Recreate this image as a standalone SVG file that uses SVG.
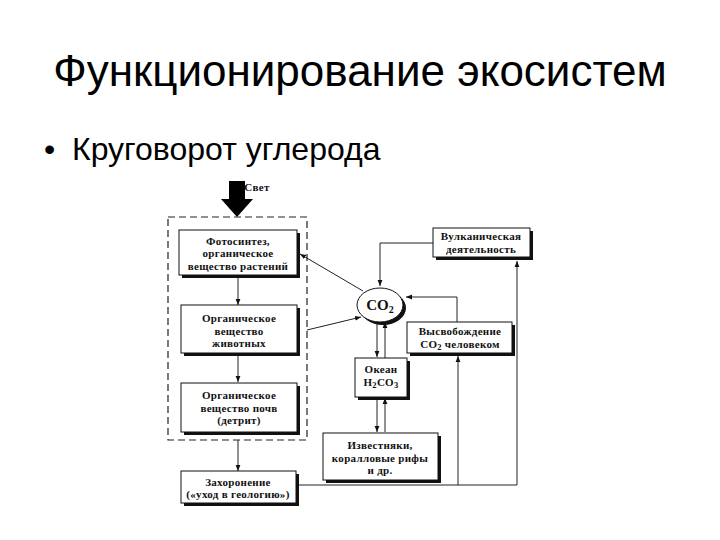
<svg xmlns="http://www.w3.org/2000/svg" width="720" height="540" viewBox="0 0 720 540">
<defs>
<marker id="ah" viewBox="0 0 10 10" refX="10" refY="5" markerWidth="6" markerHeight="6" orient="auto" markerUnits="userSpaceOnUse">
<path d="M0,1 L10,5 L0,9 Z" fill="#111"/>
</marker>
</defs>
<style>
.title{font-family:"Liberation Sans",Arial,sans-serif;fill:#000}
.t{font-family:"Liberation Serif","Times New Roman",serif;font-size:11px;letter-spacing:0.3px;font-weight:bold;fill:#111;text-anchor:middle}
.box{fill:#fff;stroke:#111;stroke-width:1}
.sh{fill:#111}
.ln{fill:none;stroke:#222;stroke-width:1}
.arr{fill:none;stroke:#222;stroke-width:1;marker-end:url(#ah)}
.dash{fill:none;stroke:#222;stroke-width:1.2;stroke-dasharray:7,4}
</style>
<rect width="720" height="540" fill="#fff"/>
<text class="title" x="360" y="86" font-size="44" text-anchor="middle">Функционирование экосистем</text>
<text class="title" x="44" y="160" font-size="32">•</text>
<text class="title" x="72" y="160" font-size="32">Круговорот углерода</text>

<g id="light">
<rect x="229" y="181" width="16" height="19" fill="#000"/>
<polygon points="221,199 253,199 237,217" fill="#000"/>
<text class="t" x="257" y="191" text-anchor="start" font-size="13">Свет</text>
</g>

<rect id="group" class="dash" x="168" y="217" width="139" height="223"/>

<g id="connectors">
<line class="arr" x1="238" y1="275" x2="238" y2="305"/>
<line class="arr" x1="238" y1="353" x2="238" y2="382"/>
<line class="arr" x1="238" y1="440" x2="238" y2="471"/>
<line class="arr" x1="363" y1="291" x2="300" y2="254"/>
<line class="arr" x1="307" y1="330" x2="361" y2="317"/>
<polyline class="arr" points="433,243 380,243 380,286"/>
<polyline class="arr" points="457,322 457,297 406,297"/>
<line class="arr" x1="377" y1="321" x2="377" y2="357"/>
<line class="arr" x1="385" y1="358" x2="385" y2="322"/>
<line class="arr" x1="377" y1="397" x2="377" y2="432"/>
<line class="arr" x1="385" y1="432" x2="385" y2="398"/>
<polyline class="ln" points="296,485 517,485"/>
<line class="arr" x1="458" y1="485" x2="458" y2="356"/>
<line class="arr" x1="517" y1="485" x2="517" y2="261"/>
</g>

<g id="photosynthesis">
<rect class="sh" x="182" y="233" width="118" height="45"/>
<rect class="box" x="179" y="230" width="118" height="45"/>
<text class="t" x="238" y="244.5">Фотосинтез,</text>
<text class="t" x="238" y="257">органическое</text>
<text class="t" x="238" y="269.5">вещество растений</text>
</g>

<g id="animals">
<rect class="sh" x="184" y="308" width="116" height="48"/>
<rect class="box" x="181" y="305" width="116" height="48"/>
<text class="t" x="239" y="322">Органическое</text>
<text class="t" x="239" y="334.5">вещество</text>
<text class="t" x="239" y="347">животных</text>
</g>

<g id="soil">
<rect class="sh" x="184" y="386" width="116" height="49"/>
<rect class="box" x="181" y="383" width="116" height="49"/>
<text class="t" x="239" y="399">Органическое</text>
<text class="t" x="239" y="411.5">вещество почв</text>
<text class="t" x="239" y="424">(детрит)</text>
</g>

<g id="burial">
<rect class="sh" x="184" y="474" width="115" height="32"/>
<rect class="box" x="181" y="471" width="115" height="32"/>
<text class="t" x="238" y="485.5">Захоронение</text>
<text class="t" x="238" y="498">(«уход в геологию»)</text>
</g>

<g id="co2">
<ellipse cx="383" cy="308" rx="23" ry="17" fill="#111"/>
<ellipse cx="380" cy="305" rx="23" ry="17" fill="#fff" stroke="#111" stroke-width="1"/>
<text x="380" y="310" text-anchor="middle" font-family="Liberation Serif,serif" font-weight="bold" font-size="15" fill="#111">CO<tspan font-size="10" dy="3">2</tspan></text>
</g>

<g id="volcano">
<rect class="sh" x="436" y="231" width="97" height="29"/>
<rect class="box" x="433" y="228" width="97" height="29"/>
<text class="t" x="481" y="240">Вулканическая</text>
<text class="t" x="481" y="252.5">деятельность</text>
</g>

<g id="human">
<rect class="sh" x="410" y="325" width="105" height="31"/>
<rect class="box" x="407" y="322" width="105" height="31"/>
<text class="t" x="460" y="335">Высвобождение</text>
<text class="t" x="460" y="347.5">CO<tspan font-size="8.5" dy="2">2</tspan><tspan dy="-2"> человеком</tspan></text>
</g>

<g id="ocean">
<rect class="sh" x="358" y="361" width="52" height="39"/>
<rect class="box" x="355" y="358" width="52" height="39"/>
<text class="t" x="381" y="373">Океан</text>
<text class="t" x="381" y="386">H<tspan font-size="8.5" dy="2">2</tspan><tspan dy="-2">CO</tspan><tspan font-size="8.5" dy="2">3</tspan></text>
</g>

<g id="limestone">
<rect class="sh" x="326" y="436" width="115" height="47"/>
<rect class="box" x="323" y="433" width="115" height="47"/>
<text class="t" x="380" y="449">Известняки,</text>
<text class="t" x="380" y="461.5">коралловые рифы</text>
<text class="t" x="380" y="474">и др.</text>
</g>
</svg>
